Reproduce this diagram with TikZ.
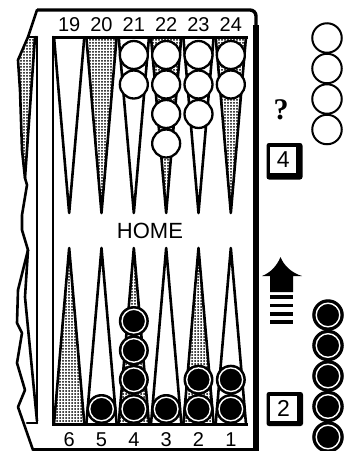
\documentclass[tikz,border=0pt]{standalone}
\usepackage{fontspec}
\setmainfont{Liberation Sans}
\newfontfamily\qfont{Liberation Serif}
\usetikzlibrary{patterns.meta}
\tikzdeclarepattern{
  name=mydots,
  type=uncolored,
  bounding box={(-1.5pt,-1.5pt) and (1.5pt,1.5pt)},
  tile size={(3pt,3pt)},
  code={\fill (0pt,0pt) circle[radius=1pt];}
}
\begin{document}
\begin{tikzpicture}[x=1pt,y=-1pt,
  ln/.style={line width=2.6pt, line join=round, line cap=round},
  pt/.style={line width=2.6pt, line join=round},
  dotfill/.style={pattern={mydots}, pattern color=black},
  wck/.style={circle, draw=black, fill=white, line width=2.3pt, minimum size=28pt, inner sep=0pt},
  bck/.style={circle, draw=black, fill=black, line width=1pt, minimum size=29pt, inner sep=0pt,
    path picture={\draw[white, line width=1.4pt] (path picture bounding box.center) circle[radius=11.8pt];}},
  bckr/.style={bck, minimum size=30.5pt},
  wckr/.style={wck, minimum size=29.5pt, line width=2pt},
  num/.style={font=\fontsize{20}{20}\selectfont, inner sep=0pt},
  die/.style={fill=white, inner sep=0pt, minimum width=26.5pt, minimum height=26.5pt, font=\fontsize{23}{23}\selectfont}
]
\useasboundingbox (0,0) rectangle (350,451);
\def\w{32.333}
% ---- left tray
\path[dotfill] (28,37) -- (18,60) -- (20,90) -- (22,150) -- (25,178) -- (35,37) -- cycle;
\draw[ln] (35,37) -- (25,178);
\draw[ln] (37,10) -- (28,37) -- (18,60) -- (20,90) -- (22,150) -- (25,178) -- (27,185) -- (22,215) -- (22,230) -- (28,250)
  -- (18,290) -- (17,323) -- (22,333) -- (17,363) -- (25,390) -- (18,407) -- (33,450);
\draw[ln] (28,250) -- (25,297) -- (37,421);
\draw[ln] (28,37) -- (37,37);
\draw[ln] (27,423) -- (37,423);
\draw[ln] (37,37) -- (37,423);
\draw[ln] (53,37) -- (53,424);
% ---- frame
\draw[line width=3.4pt, rounded corners=6pt] (37,10) -- (256,10) -- (256,451);
\draw[line width=5.5pt] (256,25) -- (256,451);
\draw[line width=2.6pt] (33,449.5) -- (257,449.5);
% ---- points
\foreach \i in {1,3,5} {
  \path[dotfill] ({53+\i*\w},37) -- ({53+(\i+0.5)*\w},213) -- ({53+(\i+1)*\w},37) -- cycle;
}
\foreach \i in {0,2,4} {
  \path[dotfill] ({53+\i*\w},424) -- ({53+(\i+0.5)*\w},248) -- ({53+(\i+1)*\w},424) -- cycle;
}
\foreach \i in {0,...,5} {
  \draw[pt] ({53+\i*\w+1},37) -- ({53+(\i+0.5)*\w},213) -- ({53+(\i+1)*\w-1},37);
  \draw[pt] ({53+\i*\w+1},424) -- ({53+(\i+0.5)*\w},248) -- ({53+(\i+1)*\w-1},424);
}
\draw[line width=3pt] (52,37) -- (248,37);
\draw[line width=3pt] (52,424) -- (248,424);
% ---- numbers
\foreach \i/\t in {0/19,1/20,2/21,3/22,4/23,5/24} {
  \node[num] (t\t) at ({53+(\i+0.5)*\w},25) {\t};
}
\foreach \i/\t in {0/6,1/5,2/4,3/3,4/2,5/1} {
  \node[num] (b\t) at ({53+(\i+0.5)*\w},440) {\t};
}
\node[font=\fontsize{22}{22}\selectfont, inner sep=0pt] (home) at (150,231) {HOME};
% ---- white checkers (top)
\foreach \c/\n in {2/2,3/4,4/3,5/2} {
  \foreach \k in {1,...,\n} {
    \node[wck] (w\c-\k) at ({53+(\c+0.5)*\w},{55+(\k-1)*29.5}) {};
  }
}
% ---- black checkers (bottom)
\foreach \c/\n in {1/1,2/4,3/1,4/2,5/2} {
  \foreach \k in {1,...,\n} {
    \node[bck] (k\c-\k) at ({53+(\c+0.5)*\w},{409-(\k-1)*29.3}) {};
  }
}
% ---- right side
\foreach \k/\y in {1/38,2/68.5,3/99,4/129.5} {
  \node[wckr] (rw\k) at (327,\y) {};
}
\foreach \k/\y in {1/315,2/345.5,3/376,4/406.5,5/437} {
  \node[bckr] (rb\k) at (328,\y) {};
}
\node[font=\qfont\bfseries\fontsize{30}{30}\selectfont, inner sep=0pt] (q) at (281,110) {?};
% dice
\fill[rounded corners=2.5pt] (266.5,143) rectangle (302.5,179.5);
\node[die] (d4) at (283.2,159.8) {4};
\fill[rounded corners=2.5pt] (266.5,392) rectangle (303,426);
\node[die, minimum width=26.5pt, minimum height=25pt] (d2) at (283.5,408) {2};
% arrow
\fill (280.5,257) .. controls (284,266) and (292,273) .. (302,276) -- (293,276) -- (293,292) -- (270,292) -- (270,276) -- (262,276)
  .. controls (270,273) and (277,266) .. (280.5,257) -- cycle;
\foreach \y in {295.3,303.5,311.7,319.9} {
  \fill (270,\y) rectangle (293,{\y+3.8});
}
\end{tikzpicture}
\end{document}
